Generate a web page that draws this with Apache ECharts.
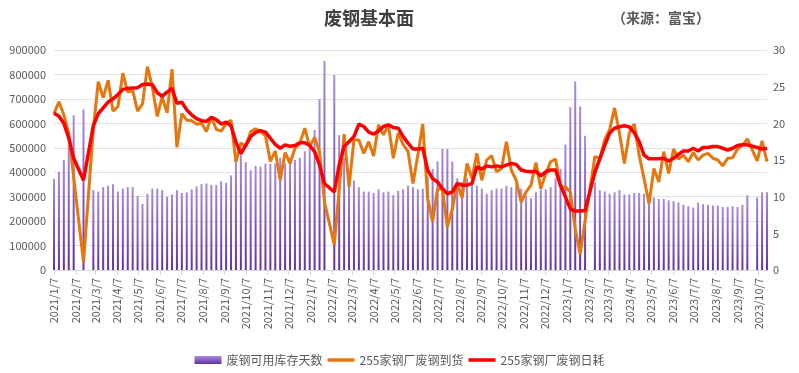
<!DOCTYPE html>
<html>
<head>
<meta charset="utf-8">
<script src="https://cdn.jsdelivr.net/npm/echarts@6/dist/echarts.min.js"></script>
<style>
html,body{margin:0;padding:0;background:#fff;}
#chart{width:799px;height:373px;}
</style>
</head>
<body>
<div id="chart"></div>
<script>
// ---- data ----
const startDate = '2021-01-07';   // first weekly observation (Thursday)
const weekCount = 146;            // weekly observations up to 2023-10-19
const axisStart = '2021-01-07';
const axisEnd = '2023-10-19';

const tickLabels = ['2021/1/7','2021/2/7','2021/3/7','2021/4/7','2021/5/7','2021/6/7','2021/7/7','2021/8/7','2021/9/7','2021/10/7','2021/11/7','2021/12/7',
  '2022/1/7','2022/2/7','2022/3/7','2022/4/7','2022/5/7','2022/6/7','2022/7/7','2022/8/7','2022/9/7','2022/10/7','2022/11/7','2022/12/7',
  '2023/1/7','2023/2/7','2023/3/7','2023/4/7','2023/5/7','2023/6/7','2023/7/7','2023/8/7','2023/9/7','2023/10/7'];

const seriesNames = ['废钢可用库存天数','255家钢厂废钢到货','255家钢厂废钢日耗'];

// 废钢可用库存天数 (days, right axis)
const inventoryDays = [
  12.4, 13.4, 15.0, 17.0, 21.1, null, 21.9, null, 10.9, 10.7,
  11.3, 11.5, 11.7, 10.7, 11.1, 11.3, 11.3, 10.1, 9.0, 10.4,
  11.1, 11.1, 10.9, 10.0, 10.3, 10.9, 10.5, 10.6, 11.0, 11.4,
  11.7, 11.8, 11.6, 11.6, 12.1, 11.9, 12.9, 14.8, 15.9, 14.7,
  13.6, 14.2, 14.1, 14.5, 14.5, 14.5, 15.3, 14.5, 15.3, 15.0,
  15.3, 16.2, 16.7, 19.1, 23.3, 28.5, null, 26.6, 18.4, 15.3,
  13.3, 12.2, 11.3, 10.7, 10.7, 10.5, 11.0, 10.6, 10.7, 10.2,
  10.8, 11.0, 11.5, 11.3, 11.0, 11.1, 12.7, 13.8, 14.8, 16.5,
  16.5, 14.8, 12.5, 12.0, 12.5, 12.0, 11.5, 11.1, 10.4, 10.9,
  11.1, 11.1, 11.5, 11.3, 11.7, 11.1, 10.1, 9.8, 10.6, 11.0,
  11.0, 11.3, 12.5, 13.8, 17.1, 22.2, 25.7, 22.3, 18.3, null,
  11.9, 10.9, 10.7, 10.4, 10.6, 10.9, 10.3, 10.3, 10.5, 10.5,
  10.4, 10.3, 9.9, 9.7, 9.7, 9.5, 9.4, 9.2, 8.9, 8.7,
  8.5, 9.2, 9.0, 8.9, 8.8, 8.8, 8.6, 8.6, 8.7, 8.6,
  8.9, 10.2, null, 9.9, 10.6, 10.6
];

// 255家钢厂废钢到货 (tons, left axis)
const arrivals = [
  640000, 688000, 635000, 560000, 380000, null, 32000, null, 577000, 770000,
  705000, 776000, 650000, 668000, 805000, 728000, 735000, 650000, 680000, 832000,
  749000, 628000, 708000, 643000, 822000, 502000, 640000, 613000, 611000, 596000,
  600000, 567000, 626000, 575000, 568000, 598000, 613000, 442000, 520000, 505000,
  566000, 578000, 566000, 549000, 444000, 487000, 367000, 481000, 436000, 498000,
  519000, 580000, 505000, 542000, 484000, 278000, null, 104000, 330000, 556000,
  340000, 532000, 532000, 477000, 525000, 466000, 594000, 553000, 594000, 457000,
  560000, 514000, 484000, 354000, 470000, 597000, 292000, 198000, 332000, 330000,
  175000, 250000, 354000, 294000, 436000, 374000, 477000, 367000, 450000, 468000,
  402000, 415000, 525000, 409000, 367000, 278000, 319000, 347000, 440000, 333000,
  395000, 443000, 454000, 340000, 340000, 319000, 168000, 65000, 200000, null,
  464000, 457000, 532000, 574000, 663000, 560000, 436000, 560000, 597000, 470000,
  374000, 271000, 415000, 360000, 484000, 395000, 495000, 454000, 470000, 443000,
  481000, 450000, 470000, 477000, 457000, 450000, 426000, 457000, 459000, 495000,
  510000, 536000, null, 446000, 528000, 443000
];

// 255家钢厂废钢日耗 (tons, left axis)
const consumption = [
  642000, 629000, 600000, 540000, 457000, null, 367000, null, 590000, 640000,
  663000, 687000, 700000, 718000, 739000, 743000, 745000, 746000, 759000, 761000,
  758000, 725000, 711000, 728000, 743000, 682000, 686000, 655000, 635000, 619000,
  611000, 608000, 624000, 615000, 597000, 605000, 590000, 523000, 476000, 511000,
  546000, 563000, 570000, 564000, 539000, 514000, 498000, 512000, 506000, 509000,
  521000, 521000, 509000, 484000, 429000, 354000, null, 319000, 430000, 505000,
  525000, 546000, 597000, 587000, 564000, 556000, 569000, 587000, 594000, 583000,
  580000, 546000, 519000, 495000, 495000, 498000, 409000, 374000, 360000, 333000,
  312000, 319000, 354000, 347000, 347000, 354000, 422000, 413000, 426000, 422000,
  426000, 422000, 429000, 436000, 432000, 409000, 404000, 402000, 404000, 385000,
  402000, 409000, 409000, 347000, 299000, 250000, 241000, 241000, 243000, null,
  400000, 455000, 510000, 560000, 580000, 586000, 590000, 585000, 562000, 525000,
  470000, 455000, 455000, 455000, 457000, 446000, 457000, 473000, 487000, 487000,
  498000, 487000, 501000, 501000, 505000, 505000, 498000, 491000, 498000, 509000,
  512000, 512000, null, 501000, 495000, 498000
];

// ---- helpers ----
function parseYMD(s) {
  const p = s.split(/[-\/]/).map(Number);
  return Date.UTC(p[0], p[1] - 1, p[2]);
}
function weeklyDates(start, n) {
  const t0 = parseYMD(start);
  const out = [];
  for (let i = 0; i < n; i++) out.push(t0 + i * 7 * 86400000);
  return out;
}
const dates = weeklyDates(startDate, weekCount);
function pairs(vals) {
  const out = [];
  vals.forEach((v, i) => { if (v !== null) out.push([dates[i], v]); });
  return out;
}
const tickValues = tickLabels.map(parseYMD);
function fmtDate(v) {
  const d = new Date(v);
  return d.getUTCFullYear() + '/' + (d.getUTCMonth() + 1) + '/' + d.getUTCDate();
}

const FONT = "'Noto Sans CJK SC', 'Noto Sans', sans-serif";
const GREY = '#595959';
const LINE_ICON = 'path://M0,0 L27,0 L27,3.5 L0,3.5 Z';

const chart = echarts.init(document.getElementById('chart'), null, {renderer: 'canvas'});
chart.setOption({
  animation: false,
  backgroundColor: '#ffffff',
  textStyle: {fontFamily: FONT},
  graphic: [
    {type: 'text', x: 369, y: 18, style: {text: '废钢基本面', fill: '#404040', font: "bold 18px 'Noto Sans CJK SC'", textAlign: 'center', textVerticalAlign: 'middle'}},
    {type: 'text', x: 612, y: 18, style: {text: '（来源：富宝）', fill: GREY, font: "bold 14px 'Noto Sans CJK SC'", textAlign: 'left', textVerticalAlign: 'middle'}}
  ],
  legend: {
    left: 'center', top: 349,
    itemWidth: 27, itemHeight: 8, itemGap: 5,
    textStyle: {fontSize: 12, color: GREY, fontFamily: FONT},
    data: [{name: seriesNames[0], icon: 'rect'},
           {name: seriesNames[1], icon: LINE_ICON},
           {name: seriesNames[2], icon: LINE_ICON}]
  },
  grid: {left: 54, right: 32, top: 50, bottom: 103, containLabel: false},
  xAxis: {
    type: 'value',
    min: parseYMD(axisStart), max: parseYMD(axisEnd),
    axisLine: {show: true, lineStyle: {color: '#D9D9D9', width: 1}},
    axisTick: {show: true, customValues: tickValues, length: 5, lineStyle: {color: '#D9D9D9'}},
    axisLabel: {
      customValues: tickValues, rotate: 90, fontSize: 11, color: GREY, margin: 8, fontFamily: FONT,
      formatter: fmtDate
    },
    splitLine: {show: false}
  },
  yAxis: [
    {type: 'value', min: 0, max: 900000, interval: 100000,
      axisLine: {show: false}, axisTick: {show: false},
      axisLabel: {fontSize: 11, color: GREY, margin: 8, fontFamily: FONT, formatter: function (v) { return String(v); }},
      splitLine: {show: true, lineStyle: {color: '#E3E3E3', width: 1}}},
    {type: 'value', min: 0, max: 30, interval: 5, position: 'right',
      axisLine: {show: false}, axisTick: {show: false},
      axisLabel: {fontSize: 11, color: GREY, margin: 6, fontFamily: FONT},
      splitLine: {show: false}}
  ],
  series: [
    {name: seriesNames[0], type: 'bar', yAxisIndex: 1, barWidth: 2, clip: false,
      itemStyle: {color: {type: 'linear', x: 0, y: 0, x2: 0, y2: 1,
        colorStops: [{offset: 0, color: '#A98BDB'}, {offset: 1, color: '#6630A6'}]}},
      data: pairs(inventoryDays), z: 1},
    {name: seriesNames[1], type: 'line', yAxisIndex: 0, symbol: 'none', showSymbol: false, connectNulls: true,
      lineStyle: {width: 3, color: '#E8760E'}, itemStyle: {color: '#E8760E'},
      data: pairs(arrivals), z: 3},
    {name: seriesNames[2], type: 'line', yAxisIndex: 0, symbol: 'none', showSymbol: false, connectNulls: true,
      lineStyle: {width: 3.5, color: '#FF0000'}, itemStyle: {color: '#FF0000'},
      data: pairs(consumption), z: 4}
  ]
});
</script>
</body>
</html>
